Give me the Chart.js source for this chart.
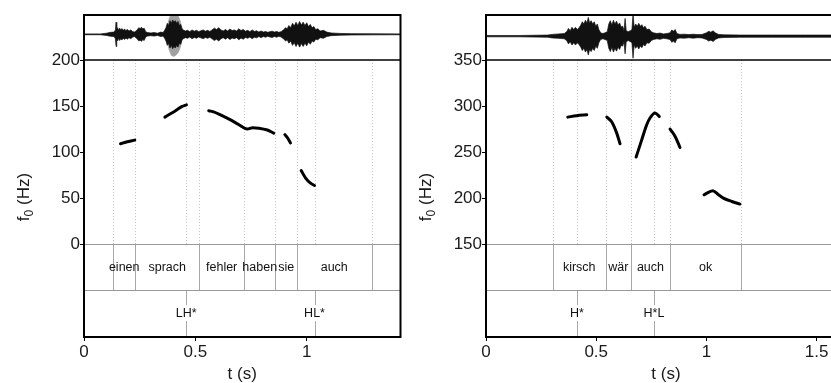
<!DOCTYPE html>
<html><head><meta charset="utf-8">
<script src="https://cdn.jsdelivr.net/npm/chart.js@4.4.1/dist/chart.umd.min.js"></script>
<style>
html,body{margin:0;padding:0;background:#fff;overflow:hidden;width:831px;height:383px;}
canvas{position:absolute;top:0;}
#c1{left:0}
#c2{left:402px}
</style></head><body>
<canvas id="c1" width="404" height="383"></canvas>
<canvas id="c2" width="446" height="383"></canvas>
<script>
// ---------- LEFT PANEL DATA ----------
const leftWords = ["", "einen", "sprach", "fehler", "haben", "sie", "auch", ""];
const leftBounds = [0, 0.131, 0.230, 0.517, 0.719, 0.859, 0.956, 1.291, 1.421];
const leftTones = ["LH*", "HL*"];
const leftToneTimes = [0.459, 1.035];
const leftF0Time = [0.164, 0.19, 0.228, null, 0.363, 0.388, 0.411, 0.441, 0.460, null, 0.560, 0.585, 0.613, 0.658, 0.694, 0.733, 0.757, 0.785, 0.823, 0.852, null, 0.902, 0.915, 0.927, null, 0.975, 0.995, 1.017, 1.035];
const leftF0Hz = [109, 111, 113, null, 138, 141.6, 145, 149.6, 151.4, null, 145, 143.5, 140.5, 135, 130, 125, 126.5, 126, 124, 120.6, null, 119, 115, 110, null, 80, 71.7, 66.3, 63.7];
const leftWaveTime = [0.000, 0.074, 0.101, 0.119, 0.135, 0.141, 0.144, 0.147, 0.151, 0.155, 0.160, 0.165, 0.170, 0.176, 0.182, 0.188, 0.195, 0.202, 0.210, 0.218, 0.226, 0.233, 0.240, 0.246, 0.252, 0.258, 0.264, 0.270, 0.277, 0.285, 0.300, 0.315, 0.330, 0.345, 0.355, 0.362, 0.368, 0.374, 0.380, 0.386, 0.392, 0.398, 0.404, 0.410, 0.416, 0.422, 0.428, 0.434, 0.440, 0.446, 0.455, 0.465, 0.475, 0.485, 0.495, 0.505, 0.515, 0.525, 0.535, 0.545, 0.555, 0.565, 0.575, 0.585, 0.595, 0.605, 0.615, 0.625, 0.635, 0.645, 0.655, 0.665, 0.675, 0.685, 0.695, 0.705, 0.715, 0.725, 0.735, 0.745, 0.755, 0.765, 0.775, 0.785, 0.795, 0.805, 0.815, 0.825, 0.835, 0.845, 0.855, 0.865, 0.875, 0.885, 0.895, 0.905, 0.912, 0.920, 0.928, 0.936, 0.944, 0.952, 0.960, 0.968, 0.976, 0.984, 0.992, 1.000, 1.008, 1.016, 1.024, 1.032, 1.040, 1.050, 1.060, 1.075, 1.090, 1.110, 1.150, 1.200, 1.300, 1.421];
const leftWaveAmp = [0.02, 0.02, 0.05, 0.09, 0.1, 0.2, 0.55, 0.25, 0.3, 0.18, 0.28, 0.2, 0.26, 0.18, 0.24, 0.17, 0.22, 0.15, 0.2, 0.13, 0.1, 0.15, 0.22, 0.3, 0.26, 0.32, 0.24, 0.28, 0.12, 0.08, 0.06, 0.08, 0.05, 0.1, 0.08, 0.18, 0.3, 0.5, 0.4, 0.62, 0.5, 0.65, 0.55, 0.62, 0.5, 0.58, 0.4, 0.45, 0.25, 0.2, 0.15, 0.18, 0.12, 0.2, 0.14, 0.18, 0.12, 0.16, 0.2, 0.14, 0.18, 0.13, 0.2, 0.28, 0.22, 0.3, 0.2, 0.15, 0.22, 0.15, 0.24, 0.17, 0.2, 0.15, 0.25, 0.17, 0.22, 0.14, 0.18, 0.12, 0.2, 0.13, 0.16, 0.1, 0.15, 0.1, 0.13, 0.09, 0.12, 0.14, 0.1, 0.13, 0.09, 0.12, 0.2, 0.3, 0.25, 0.4, 0.3, 0.5, 0.38, 0.55, 0.4, 0.58, 0.42, 0.55, 0.4, 0.52, 0.35, 0.45, 0.3, 0.35, 0.22, 0.25, 0.15, 0.18, 0.1, 0.06, 0.04, 0.03, 0.025, 0.02];
const leftBurstTime = [0.372, 0.382, 0.392, 0.402, 0.412, 0.422, 0.432, 0.442];
const leftBurstAmp = [0.2, 0.7, 0.95, 1.0, 0.95, 0.85, 0.6, 0.2];
const leftXTicks = [0, 0.5, 1];
const leftYTicks = [0, 50, 100, 150, 200];

// ---------- RIGHT PANEL DATA ----------
const rightWords = ["", "kirsch", "wär", "auch", "ok", ""];
const rightBounds = [0, 0.303, 0.543, 0.657, 0.835, 1.157, 1.633];
const rightTones = ["H*", "H*L"];
const rightToneTimes = [0.412, 0.762];
const rightF0Time = [0.371, 0.41, 0.457, null, 0.548, 0.570, 0.593, 0.608, null, 0.681, 0.706, 0.729, 0.744, 0.767, 0.786, null, 0.835, 0.858, 0.880, null, 0.989, 1.029, 1.053, 1.077, 1.115, 1.152];
const rightF0Hz = [288, 289.5, 290.5, null, 288, 283, 270.6, 259, null, 244.6, 263, 279.7, 287, 292.4, 288.7, null, 275, 267, 255, null, 203.6, 208, 204, 200, 196.3, 193.5];
const rightWaveTime = [0, 0.15, 0.28, 0.30, 0.33, 0.355, 0.366, 0.374, 0.382, 0.390, 0.398, 0.406, 0.414, 0.422, 0.430, 0.437, 0.444, 0.451, 0.458, 0.464, 0.470, 0.477, 0.484, 0.491, 0.498, 0.505, 0.512, 0.520, 0.530, 0.540, 0.550, 0.557, 0.564, 0.571, 0.578, 0.585, 0.592, 0.599, 0.606, 0.613, 0.620, 0.626, 0.631, 0.636, 0.645, 0.655, 0.662, 0.667, 0.672, 0.679, 0.686, 0.693, 0.700, 0.707, 0.714, 0.721, 0.730, 0.740, 0.750, 0.760, 0.775, 0.790, 0.805, 0.820, 0.835, 0.843, 0.850, 0.858, 0.866, 0.880, 0.900, 0.920, 0.940, 0.960, 0.980, 1.000, 1.010, 1.020, 1.030, 1.040, 1.055, 1.080, 1.150, 1.300, 1.450, 1.633];
const rightWaveAmp = [0.03, 0.03, 0.05, 0.08, 0.1, 0.12, 0.2, 0.35, 0.25, 0.4, 0.3, 0.4, 0.3, 0.38, 0.5, 0.65, 0.55, 0.72, 0.6, 0.85, 0.6, 0.7, 0.55, 0.65, 0.45, 0.55, 0.3, 0.15, 0.12, 0.15, 0.2, 0.55, 0.7, 0.5, 0.72, 0.55, 0.68, 0.5, 0.6, 0.42, 0.45, 0.25, 0.8, 0.25, 0.2, 0.25, 0.3, 1.0, 0.4, 0.55, 0.45, 0.58, 0.45, 0.52, 0.38, 0.45, 0.3, 0.32, 0.2, 0.15, 0.12, 0.14, 0.1, 0.12, 0.15, 0.28, 0.22, 0.3, 0.12, 0.08, 0.09, 0.07, 0.09, 0.07, 0.08, 0.15, 0.22, 0.18, 0.24, 0.15, 0.08, 0.06, 0.05, 0.05, 0.05, 0.05];
const rightXTicks = [0, 0.5, 1, 1.5];
const rightYTicks = [150, 200, 250, 300, 350];

// ---------- helpers ----------
const FONT = "'Liberation Sans', Arial, Helvetica, sans-serif";

function f0Datasets(ts, hz) {
  const out = []; let cur = [];
  ts.forEach((t, i) => {
    if (t === null || hz[i] === null) { if (cur.length) out.push(cur); cur = []; }
    else cur.push({x: t, y: hz[i]});
  });
  if (cur.length) out.push(cur);
  return out.map(d => ({
    data: d, borderColor: '#000', borderWidth: 3, pointRadius: 0,
    cubicInterpolationMode: 'monotone', borderCapStyle: 'round', borderJoinStyle: 'round',
    fill: false, order: 0
  }));
}
function waveDatasets(ts, amps, center, half, color, order) {
  const up = ts.map((t, i) => ({x: t, y: center + amps[i] * half}));
  const lo = ts.map((t, i) => ({x: t, y: center - amps[i] * half}));
  return [
    {data: up, borderColor: color, borderWidth: 0.7, pointRadius: 0, tension: 0, fill: false, order},
    {data: lo, borderColor: color, borderWidth: 0.7, pointRadius: 0, tension: 0, fill: '-1', backgroundColor: color, order}
  ];
}

const praatDecor = {
  id: 'praatDecor',
  beforeDatasetsDraw(chart, args, o) {
    const {ctx, chartArea: a, scales: {x, y}} = chart;
    const yF0Top = y.getPixelForValue(o.f0Top);
    const yT1 = y.getPixelForValue(o.tierTop);
    const yT2 = y.getPixelForValue(o.tierTop - o.tierHeight);
    const px = t => Math.round(x.getPixelForValue(t)) + 0.5;
    ctx.save();
    ctx.lineWidth = 1;
    ctx.strokeStyle = '#c4c4c4';
    ctx.setLineDash([1, 2]);
    o.bounds.slice(1, -1).concat(o.toneTimes).forEach(t => {
      ctx.beginPath(); ctx.moveTo(px(t), yF0Top); ctx.lineTo(px(t), yT1); ctx.stroke();
    });
    ctx.setLineDash([]);
    ctx.strokeStyle = '#a8a8a8';
    o.bounds.slice(1, -1).forEach(t => {
      ctx.beginPath(); ctx.moveTo(px(t), yT1); ctx.lineTo(px(t), yT2); ctx.stroke();
    });
    o.toneTimes.forEach(t => {
      ctx.beginPath(); ctx.moveTo(px(t), yT2); ctx.lineTo(px(t), a.bottom); ctx.stroke();
    });
    ctx.strokeStyle = '#999';
    [yT1, yT2].forEach(yy => {
      const v = Math.round(yy) + 0.5;
      ctx.beginPath(); ctx.moveTo(a.left, v); ctx.lineTo(a.right, v); ctx.stroke();
    });
    ctx.strokeStyle = '#000'; ctx.lineWidth = 1.5;
    ctx.beginPath(); ctx.moveTo(a.left, yF0Top); ctx.lineTo(a.right, yF0Top); ctx.stroke();
    ctx.restore();
  },
  afterDatasetsDraw(chart, args, o) {
    const {ctx, chartArea: a, scales: {x, y}} = chart;
    const yF0Top = y.getPixelForValue(o.f0Top);
    const yL1 = y.getPixelForValue(o.tierTop - o.tierHeight / 2);
    const yL2 = y.getPixelForValue(o.tierTop - o.tierHeight * 1.5);
    ctx.save();
    ctx.font = '12.5px ' + FONT;
    ctx.textAlign = 'center'; ctx.textBaseline = 'middle';
    ctx.fillStyle = '#111';
    o.words.forEach((w, i) => {
      if (!w) return;
      const cx = x.getPixelForValue((o.bounds[i] + o.bounds[i + 1]) / 2);
      ctx.fillText(w, cx, yL1);
    });
    o.tones.forEach((w, i) => {
      const cx = x.getPixelForValue(o.toneTimes[i]);
      const tw = ctx.measureText(w).width;
      ctx.fillStyle = '#fff';
      ctx.fillRect(cx - tw / 2 - 2, yL2 - 8, tw + 4, 16);
      ctx.fillStyle = '#111';
      ctx.fillText(w, cx, yL2);
    });
    ctx.strokeStyle = '#000'; ctx.lineWidth = 2;
    ctx.strokeRect(a.left, a.top, a.right - a.left, a.bottom - a.top);
    ctx.font = '17px ' + FONT; ctx.fillStyle = '#1a1a1a';
    ctx.fillText(o.xTitle, (a.left + a.right) / 2, a.bottom + 37.5);
    ctx.translate(23, (yF0Top + a.bottom) / 2 - 1.5);
    ctx.rotate(-Math.PI / 2);
    ctx.textAlign = 'left'; ctx.textBaseline = 'alphabetic';
    const big = '17px ' + FONT, small = '12px ' + FONT;
    ctx.font = big; const wf = ctx.measureText('f').width; const wr = ctx.measureText(' (Hz)').width;
    ctx.font = small; const w0 = ctx.measureText('0').width;
    let sx = -(wf + w0 + wr) / 2; const base = 6;
    ctx.font = big; ctx.fillText('f', sx, base); sx += wf;
    ctx.font = small; ctx.fillText('0', sx, base + 3.5); sx += w0;
    ctx.font = big; ctx.fillText(' (Hz)', sx, base);
    ctx.restore();
  }
};

function makeChart(id, cfg) {
  const gridOpts = {drawOnChartArea: false, drawTicks: true, tickLength: 4, color: '#000', lineWidth: 1};
  const tickFont = {family: FONT, size: 17};
  const datasets = [];
  if (cfg.burst) datasets.push(...waveDatasets(cfg.burst[0], cfg.burst[1], cfg.waveCenter, 24, '#a0a0a0', 10));
  datasets.push(...waveDatasets(cfg.waveT, cfg.waveA, cfg.waveCenter, 24, '#111', 5));
  datasets.push(...f0Datasets(cfg.f0T, cfg.f0H));
  return new Chart(document.getElementById(id), {
    type: 'line',
    data: {datasets},
    plugins: [praatDecor],
    options: {
      responsive: false, animation: false, events: [],
      layout: {padding: {left: 0, right: cfg.padRight, top: 15, bottom: 0}},
      plugins: {
        legend: {display: false}, tooltip: {enabled: false},
        praatDecor: {
          words: cfg.words, bounds: cfg.bounds, tones: cfg.tones, toneTimes: cfg.toneTimes,
          f0Top: cfg.f0Top, tierTop: cfg.tierTop, tierHeight: 50, xTitle: 't (s)'
        }
      },
      scales: {
        x: {
          type: 'linear', min: 0, max: cfg.xMax,
          afterFit: s => { s.height = 46; },
          afterBuildTicks: s => { s.ticks = cfg.xTicks.map(v => ({value: v})); },
          grid: gridOpts, border: {display: false},
          ticks: {font: tickFont, color: '#1a1a1a', padding: 1, maxRotation: 0, autoSkip: false, callback: v => String(v)}
        },
        y: {
          type: 'linear', min: cfg.yMin, max: cfg.yMax,
          afterFit: s => { s.width = 84; },
          afterBuildTicks: s => { s.ticks = cfg.yTicks.map(v => ({value: v})); },
          grid: gridOpts, border: {display: false},
          ticks: {font: tickFont, color: '#1a1a1a', padding: 0, autoSkip: false, callback: v => String(v)}
        }
      }
    }
  });
}

makeChart('c1', {
  words: leftWords, bounds: leftBounds, tones: leftTones, toneTimes: leftToneTimes,
  f0T: leftF0Time, f0H: leftF0Hz, waveT: leftWaveTime, waveA: leftWaveAmp,
  burst: [leftBurstTime, leftBurstAmp], waveCenter: 228,
  xTicks: leftXTicks, yTicks: leftYTicks, xMax: 1.421, yMin: -101, yMax: 249,
  f0Top: 200, tierTop: 0, padRight: 3.5
});
makeChart('c2', {
  words: rightWords, bounds: rightBounds, tones: rightTones, toneTimes: rightToneTimes,
  f0T: rightF0Time, f0H: rightF0Hz, waveT: rightWaveTime, waveA: rightWaveAmp,
  burst: null, waveCenter: 376,
  xTicks: rightXTicks, yTicks: rightYTicks, xMax: 1.633, yMin: 49, yMax: 399,
  f0Top: 350, tierTop: 150, padRight: 2
});
</script>
</body></html>
